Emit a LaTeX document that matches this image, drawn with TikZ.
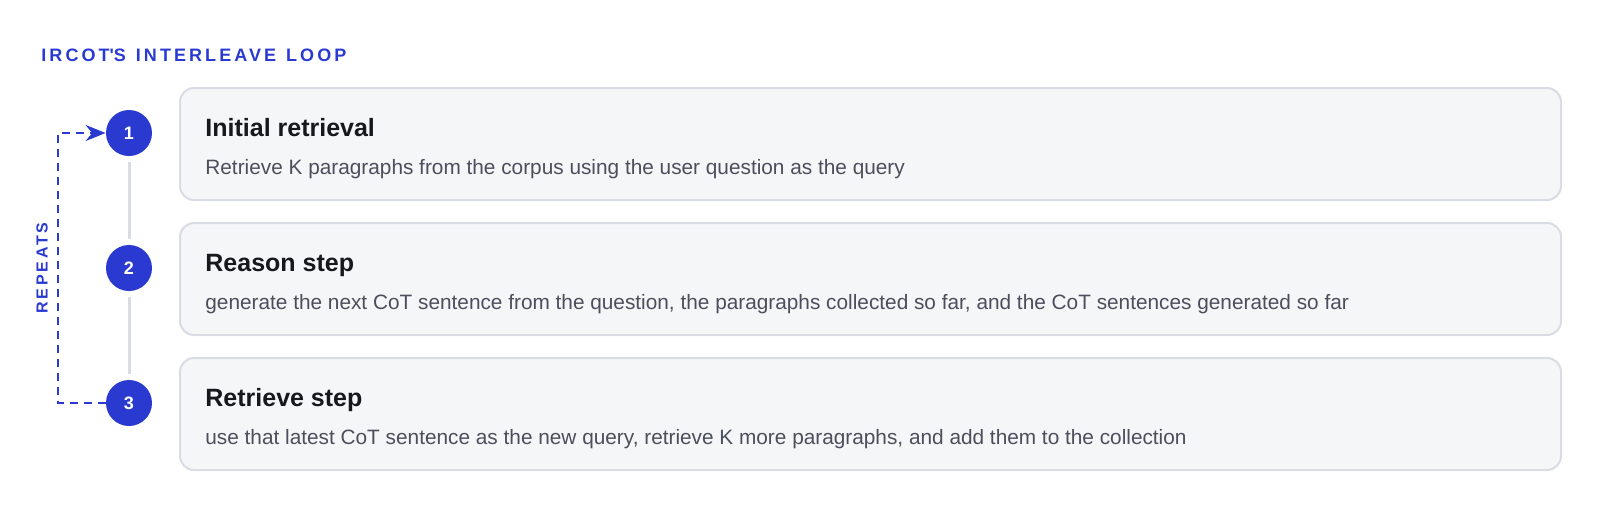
\documentclass[tikz,border=0pt]{standalone}
\usepackage{fontspec}
\setmainfont{Liberation Sans}
\usetikzlibrary{arrows.meta}

\definecolor{loopblue}{HTML}{2A3AD1}
\definecolor{boxfill}{HTML}{F5F6F8}
\definecolor{boxline}{HTML}{DADCE4}
\definecolor{titletext}{HTML}{17181C}
\definecolor{desctext}{HTML}{4B4F5C}

\newcommand{\spacedcaps}{\bfseries\addfontfeatures{LetterSpace=17}}
\newcommand{\capsgap}{\hspace{5pt}}

\tikzset{
  stepnum/.style={circle, fill=loopblue, minimum size=23pt, inner sep=0pt,
    text=white, font=\fontsize{9}{10}\selectfont\bfseries},
  stepbox/.style={draw=boxline, fill=boxfill, line width=1pt, rounded corners=7pt,
    minimum width=690.5pt, minimum height=56pt, anchor=north west},
  boxtitle/.style={anchor=base west, inner sep=0pt, text=titletext,
    font=\fontsize{12.5}{15}\selectfont\bfseries},
  boxdesc/.style={anchor=base west, inner sep=0pt, text=desctext,
    font=\fontsize{10.4}{12}\selectfont},
  capslabel/.style={inner sep=0pt, text=loopblue,
    font=\fontsize{9}{11}\selectfont\spacedcaps}
}

\begin{document}
\begin{tikzpicture}[x=0.5pt, y=-0.5pt]
  \useasboundingbox (0, 0) rectangle (1600, 509);

  \node[capslabel, anchor=base west] (H) at (41, 61) {IRCOT\textquotesingle S\capsgap INTERLEAVE\capsgap LOOP};

  % step boxes
  \node[stepbox] (B1) at (179, 87) {};
  \node[stepbox] (B2) at (179, 222) {};
  \node[stepbox] (B3) at (179, 357) {};

  \node[boxtitle] (T1) at (205, 136) {Initial retrieval};
  \node[boxdesc] (D1) at (205, 174) {Retrieve K paragraphs from the corpus using the user question as the query};
  \node[boxtitle] (T2) at (205, 271) {Reason step};
  \node[boxdesc] (D2) at (205, 309) {generate the next CoT sentence from the question, the paragraphs collected so far, and the CoT sentences generated so far};
  \node[boxtitle] (T3) at (205, 406) {Retrieve step};
  \node[boxdesc] (D3) at (205, 444) {use that latest CoT sentence as the new query, retrieve K more paragraphs, and add them to the collection};

  % numbered steps
  \node[stepnum] (N1) at (129, 133) {1};
  \node[stepnum] (N2) at (129, 268) {2};
  \node[stepnum] (N3) at (129, 403) {3};

  \draw[boxline, line width=1.5pt, shorten <=3pt, shorten >=3pt] (N1) -- (N2);
  \draw[boxline, line width=1.5pt, shorten <=3pt, shorten >=3pt] (N2) -- (N3);

  % loop back
  \coordinate (L) at (58, 133);
  \draw[loopblue, line width=1pt, dash pattern=on 4pt off 3pt, -{Stealth[length=10pt, width=8pt]}]
    (N3.west) -| (L) -- (N1.west);
  \node[capslabel, rotate=90, font=\fontsize{8}{10}\selectfont\spacedcaps] (R) at (42, 268) {REPEATS};
\end{tikzpicture}
\end{document}
